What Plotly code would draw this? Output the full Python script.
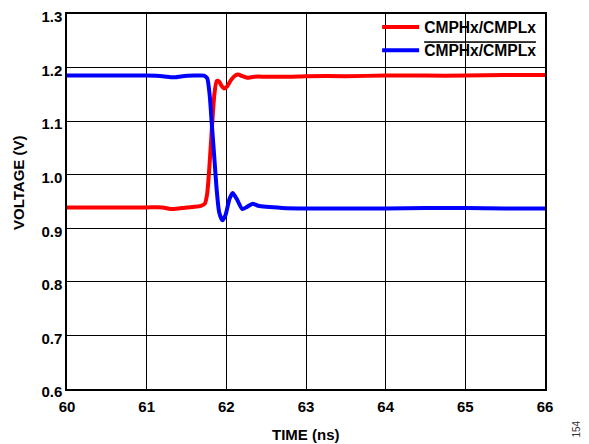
import plotly.graph_objects as go

# ---- data ----
red_t = [60.0, 60.5, 61.0, 61.2, 61.3, 61.4, 61.5, 61.6, 61.68, 61.73, 61.76, 61.79, 61.82,
         61.85, 61.88, 61.91, 61.94, 61.97, 62.01, 62.06, 62.11, 62.15, 62.2, 62.26, 62.35,
         62.5, 62.8, 63.0, 63.5, 64.0, 64.5, 65.0, 65.5, 66.0]
red_v = [0.939, 0.939, 0.939, 0.939, 0.936, 0.937, 0.939, 0.940, 0.942, 0.946, 0.965, 1.02, 1.09,
         1.15, 1.175, 1.174, 1.166, 1.161, 1.165, 1.177, 1.185, 1.187, 1.184, 1.181, 1.183,
         1.183, 1.183, 1.184, 1.184, 1.185, 1.185, 1.185, 1.186, 1.186]

blue_t = [60.0, 60.5, 61.0, 61.2, 61.3, 61.36, 61.45, 61.6, 61.72, 61.76, 61.79, 61.82, 61.85,
          61.88, 61.91, 61.95, 61.99, 62.04, 62.08, 62.13, 62.2, 62.26, 62.33, 62.4, 62.5,
          62.7, 63.0, 63.5, 64.0, 64.5, 65.0, 65.5, 66.0]
blue_v = [1.185, 1.185, 1.185, 1.184, 1.182, 1.182, 1.184, 1.185, 1.185, 1.18, 1.15, 1.09, 1.03,
          0.97, 0.93, 0.915, 0.925, 0.955, 0.966, 0.955, 0.936, 0.940, 0.946, 0.942, 0.940,
          0.938, 0.937, 0.937, 0.937, 0.938, 0.938, 0.937, 0.937]

x_ticks = [60, 61, 62, 63, 64, 65, 66]
y_ticks = [0.6, 0.7, 0.8, 0.9, 1.0, 1.1, 1.2, 1.3]
y_tick_labels = ["0.6", "0.7", "0.8", "0.9", "1.0", "1.1", "1.2", "1.3"]

series_names = ["CMPHx/CMPLx",
                '<span style="text-decoration:overline">CMPHx/CMPLx</span>']

FONT = "Liberation Sans, Arial, sans-serif"

fig = go.Figure()
fig.add_trace(go.Scatter(x=red_t, y=red_v, mode="lines", name=series_names[0],
                         line=dict(color="#ff0000", width=4, shape="spline", smoothing=0.6)))
fig.add_trace(go.Scatter(x=blue_t, y=blue_v, mode="lines", name=series_names[1],
                         line=dict(color="#0000ff", width=4, shape="spline", smoothing=0.6)))

# white panel behind the legend (covers grid lines, sits under the border)
fig.add_shape(type="rect", xref="paper", yref="paper", x0=0.634, x1=0.997, y0=0.877, y1=0.995,
              fillcolor="white", line=dict(width=0), layer="between")

fig.update_layout(
    width=581, height=436,
    margin=dict(l=59, r=44, t=6, b=55, autoexpand=False),
    paper_bgcolor="white", plot_bgcolor="white",
    font=dict(family=FONT, size=15, color="black"),
    showlegend=True,
    legend=dict(x=0.994, y=1.01, xanchor="right", yanchor="top",
                bgcolor="rgba(0,0,0,0)", borderwidth=0,
                font=dict(family=FONT, size=15.6, color="black", weight="bold"),
                itemwidth=37, tracegroupgap=0),
    xaxis=dict(range=[60, 66], tickvals=x_ticks, ticktext=[str(v) for v in x_ticks],
               showgrid=True, gridcolor="black", gridwidth=1, automargin=False,
               showline=True, linecolor="black", linewidth=1.5, mirror=True,
               ticks="", zeroline=False, ticklabelstandoff=3, ticklabeloverflow="allow",
               tickfont=dict(family=FONT, size=15, color="black", weight="bold")),
    yaxis=dict(range=[0.6, 1.3], tickvals=y_ticks, ticktext=y_tick_labels,
               showgrid=True, gridcolor="black", gridwidth=1, automargin=False,
               showline=True, linecolor="black", linewidth=1.5, mirror=True,
               ticks="", zeroline=False, ticklabeloverflow="allow", ticklabelshift=3,
               tickfont=dict(family=FONT, size=15, color="black", weight="bold")),
)

fig.add_annotation(text="<b>TIME (ns)</b>", xref="paper", yref="paper", x=0.5, y=-0.12,
                   yanchor="middle", showarrow=False, font=dict(family=FONT, size=15))
fig.add_annotation(text="<b>VOLTAGE (V)</b>", xref="paper", yref="paper", x=-0.1,
                   y=0.55, xanchor="center", yanchor="middle", textangle=-90,
                   showarrow=False, font=dict(family=FONT, size=15))
fig.add_annotation(text="154", xref="paper", yref="paper", x=1.065, y=-0.108,
                   xanchor="center", yanchor="middle", textangle=-90, showarrow=False,
                   font=dict(family=FONT, size=10, color="#333333"))

fig.write_html("out.html")
